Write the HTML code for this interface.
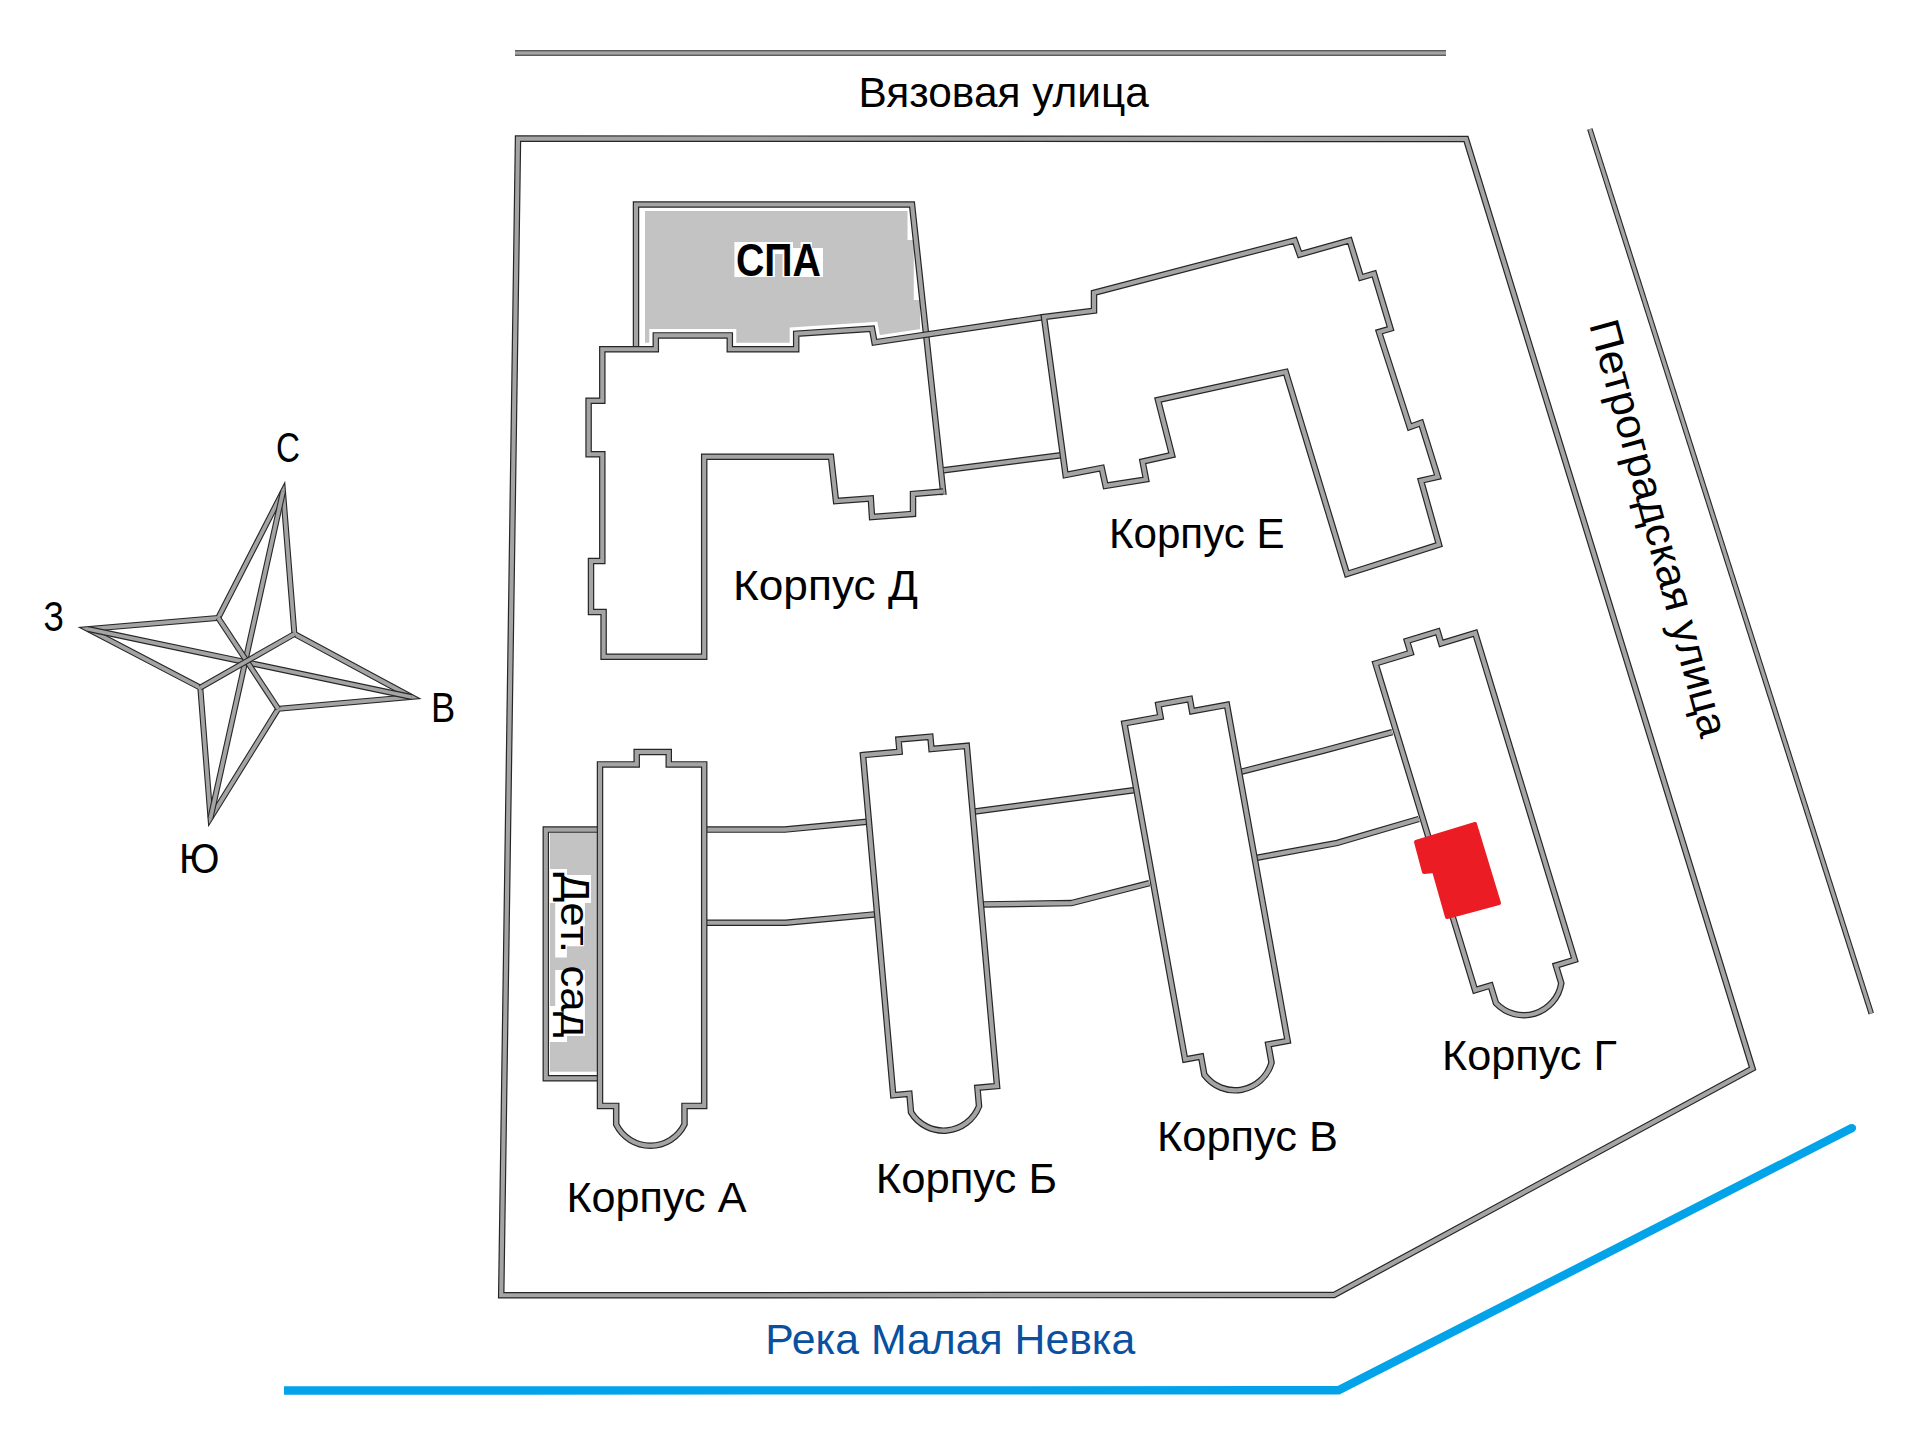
<!DOCTYPE html>
<html><head><meta charset="utf-8"><style>
html,body{margin:0;padding:0;background:#fff;width:1920px;height:1448px;overflow:hidden}
svg{display:block}
text{font-family:"Liberation Sans",sans-serif;fill:#000}
</style></head><body>
<svg width="1920" height="1448" viewBox="0 0 1920 1448">
<rect width="1920" height="1448" fill="#fff"/>
<path d="M515 53 L1446 53" fill="none" stroke="#262626" stroke-width="5.6" stroke-linejoin="miter" stroke-linecap="butt" stroke-miterlimit="10"/>
<path d="M515 53 L1446 53" fill="none" stroke="#a4a4a4" stroke-width="3.4" stroke-linejoin="miter" stroke-linecap="butt" stroke-miterlimit="10"/>
<path d="M1589.8 129 L1871.3 1013.6" fill="none" stroke="#262626" stroke-width="5.6" stroke-linejoin="miter" stroke-linecap="butt" stroke-miterlimit="10"/>
<path d="M1589.8 129 L1871.3 1013.6" fill="none" stroke="#a4a4a4" stroke-width="3.4" stroke-linejoin="miter" stroke-linecap="butt" stroke-miterlimit="10"/>
<path d="M518 138.5 L1466 139 L1752.5 1068.5 L1334 1295 L501.2 1295.3 Z" fill="none" stroke="#262626" stroke-width="6.5" stroke-linejoin="miter" stroke-linecap="butt" stroke-miterlimit="10"/>
<path d="M518 138.5 L1466 139 L1752.5 1068.5 L1334 1295 L501.2 1295.3 Z" fill="none" stroke="#a4a4a4" stroke-width="4.1" stroke-linejoin="miter" stroke-linecap="butt" stroke-miterlimit="10"/>
<path d="M284 1390.5 L1338.5 1390.3 L1851.9 1128.1" fill="none" stroke="#03a3e9" stroke-width="8.4" stroke-linejoin="miter"/>
<circle cx="1851.9" cy="1128.1" r="4.2" fill="#03a3e9"/>
<path d="M645 211 L907.5 211 L907.5 240 L913.75 240 L913.75 300 L920 300 L920 344 L645 344 Z" fill="#c3c3c3"/>
<path d="M734.4 242 L793 242 L793 248 L800.6 248 L800.6 242 L812 242 L812 248 L823 248 L823 277 L782.5 277 L782.5 254 L775 254 L775 277 L734.4 277 Z" fill="#fff"/>
<rect x="550" y="832.5" width="47" height="239.2" fill="#c3c3c3"/>
<path d="M549.7 869H567V903H549.7ZM567 875H591V903H567ZM555.2 903H584.9V926.3H555.2ZM555.2 926.3H584.2V946.3H555.2ZM555.2 946.3H566.9V957.6H555.2ZM555.2 970H584.9V988.7H555.2ZM555.2 988.7H584.9V1006H555.2ZM549.7 1006H567V1041.9H549.7ZM567 1006H584.9V1036H567Z" fill="#fff"/>
<path d="M602.3 349.3 L655.8 349.3 L655.8 335.4 L729.8 335.4 L729.8 349.3 L796.2 349.3 L796.2 333.7 L872 328.7 L874.5 342.4 L935 333.5 L943.2 491.5 L913 494 L913 513.9 L872 517 L870.8 498.5 L836 501 L831 456.7 L704.2 456.7 L704.2 656.8 L603.6 656.8 L603.6 612 L591 612 L591 561 L602.3 561 L602.3 454.2 L588.6 454.2 L588.6 400.8 L602.3 400.8 Z" fill="#fff" stroke="#fff" stroke-width="13"/>
<path d="M636 349 L636 204.5 L912 204.5 L943.5 495" fill="none" stroke="#262626" stroke-width="6.5" stroke-linejoin="miter" stroke-linecap="butt" stroke-miterlimit="10"/>
<path d="M636 349 L636 204.5 L912 204.5 L943.5 495" fill="none" stroke="#a4a4a4" stroke-width="4.1" stroke-linejoin="miter" stroke-linecap="butt" stroke-miterlimit="10"/>
<path d="M943.2 491.5 L913 494 L913 513.9 L872 517 L870.8 498.5 L836 501 L831 456.7 L704.2 456.7 L704.2 656.8 L603.6 656.8 L603.6 612 L591 612 L591 561 L602.3 561 L602.3 454.2 L588.6 454.2 L588.6 400.8 L602.3 400.8 L602.3 349.3 L655.8 349.3 L655.8 335.4 L729.8 335.4 L729.8 349.3 L796.2 349.3 L796.2 333.7 L872 328.7 L874.5 342.4 L1044 317" fill="none" stroke="#262626" stroke-width="6.5" stroke-linejoin="miter" stroke-linecap="butt" stroke-miterlimit="10"/>
<path d="M943.2 491.5 L913 494 L913 513.9 L872 517 L870.8 498.5 L836 501 L831 456.7 L704.2 456.7 L704.2 656.8 L603.6 656.8 L603.6 612 L591 612 L591 561 L602.3 561 L602.3 454.2 L588.6 454.2 L588.6 400.8 L602.3 400.8 L602.3 349.3 L655.8 349.3 L655.8 335.4 L729.8 335.4 L729.8 349.3 L796.2 349.3 L796.2 333.7 L872 328.7 L874.5 342.4 L1044 317" fill="none" stroke="#a4a4a4" stroke-width="4.1" stroke-linejoin="miter" stroke-linecap="butt" stroke-miterlimit="10"/>
<path d="M943.75 470.3 L1061 455.3" fill="none" stroke="#262626" stroke-width="6.5" stroke-linejoin="miter" stroke-linecap="butt" stroke-miterlimit="10"/>
<path d="M943.75 470.3 L1061 455.3" fill="none" stroke="#a4a4a4" stroke-width="4.1" stroke-linejoin="miter" stroke-linecap="butt" stroke-miterlimit="10"/>
<path d="M1044 317 L1094 310.7 L1094 292.8 L1294.7 240.4 L1299.8 254.5 L1349.6 240.4 L1361 277.5 L1374 273.7 L1390.5 328.6 L1379 332 L1409.7 427 L1421 423 L1437.8 476.8 L1421 480.7 L1439 544.6 L1347 574 L1285.7 372 L1158 400 L1172 455 L1142.6 461.5 L1146 479.4 L1105.6 485.8 L1101.7 468 L1065.6 475 Z" fill="none" stroke="#262626" stroke-width="6.5" stroke-linejoin="miter" stroke-linecap="butt" stroke-miterlimit="10"/>
<path d="M1044 317 L1094 310.7 L1094 292.8 L1294.7 240.4 L1299.8 254.5 L1349.6 240.4 L1361 277.5 L1374 273.7 L1390.5 328.6 L1379 332 L1409.7 427 L1421 423 L1437.8 476.8 L1421 480.7 L1439 544.6 L1347 574 L1285.7 372 L1158 400 L1172 455 L1142.6 461.5 L1146 479.4 L1105.6 485.8 L1101.7 468 L1065.6 475 Z" fill="none" stroke="#a4a4a4" stroke-width="4.1" stroke-linejoin="miter" stroke-linecap="butt" stroke-miterlimit="10"/>
<path d="M704.2 829.6 L784.8 829.6 L867 821.7" fill="none" stroke="#262626" stroke-width="6.5" stroke-linejoin="miter" stroke-linecap="butt" stroke-miterlimit="10"/>
<path d="M704.2 829.6 L784.8 829.6 L867 821.7" fill="none" stroke="#a4a4a4" stroke-width="4.1" stroke-linejoin="miter" stroke-linecap="butt" stroke-miterlimit="10"/>
<path d="M704.2 922.7 L785.8 922.7 L874.4 914.4" fill="none" stroke="#262626" stroke-width="6.5" stroke-linejoin="miter" stroke-linecap="butt" stroke-miterlimit="10"/>
<path d="M704.2 922.7 L785.8 922.7 L874.4 914.4" fill="none" stroke="#a4a4a4" stroke-width="4.1" stroke-linejoin="miter" stroke-linecap="butt" stroke-miterlimit="10"/>
<path d="M973 811.8 L1133.5 790.3" fill="none" stroke="#262626" stroke-width="6.5" stroke-linejoin="miter" stroke-linecap="butt" stroke-miterlimit="10"/>
<path d="M973 811.8 L1133.5 790.3" fill="none" stroke="#a4a4a4" stroke-width="4.1" stroke-linejoin="miter" stroke-linecap="butt" stroke-miterlimit="10"/>
<path d="M982.6 904.4 L1071.5 903.1 L1149.3 883.2" fill="none" stroke="#262626" stroke-width="6.5" stroke-linejoin="miter" stroke-linecap="butt" stroke-miterlimit="10"/>
<path d="M982.6 904.4 L1071.5 903.1 L1149.3 883.2" fill="none" stroke="#a4a4a4" stroke-width="4.1" stroke-linejoin="miter" stroke-linecap="butt" stroke-miterlimit="10"/>
<path d="M1239.9 772.1 L1323.1 750.8 L1392.2 732.2" fill="none" stroke="#262626" stroke-width="6.5" stroke-linejoin="miter" stroke-linecap="butt" stroke-miterlimit="10"/>
<path d="M1239.9 772.1 L1323.1 750.8 L1392.2 732.2" fill="none" stroke="#a4a4a4" stroke-width="4.1" stroke-linejoin="miter" stroke-linecap="butt" stroke-miterlimit="10"/>
<path d="M1255.8 858 L1337.3 842.9 L1418.8 819" fill="none" stroke="#262626" stroke-width="6.5" stroke-linejoin="miter" stroke-linecap="butt" stroke-miterlimit="10"/>
<path d="M1255.8 858 L1337.3 842.9 L1418.8 819" fill="none" stroke="#a4a4a4" stroke-width="4.1" stroke-linejoin="miter" stroke-linecap="butt" stroke-miterlimit="10"/>
<path d="M600 829.6 L545.8 829.6 L545.8 1078.3 L600 1078.3" fill="none" stroke="#262626" stroke-width="6.5" stroke-linejoin="miter" stroke-linecap="butt" stroke-miterlimit="10"/>
<path d="M600 829.6 L545.8 829.6 L545.8 1078.3 L600 1078.3" fill="none" stroke="#a4a4a4" stroke-width="4.1" stroke-linejoin="miter" stroke-linecap="butt" stroke-miterlimit="10"/>
<path d="M600 764.4 L636.7 764.4 L636.7 752 L668.75 752 L668.75 764.4 L704.2 764.4 L704.2 1105.9 L684.5 1105.9 L684.5 1124.4 A38 38 0 0 1 616.2 1124.4 L616.2 1105.9 L600 1105.9 Z" fill="none" stroke="#262626" stroke-width="6.5" stroke-linejoin="miter" stroke-linecap="butt" stroke-miterlimit="10"/>
<path d="M600 764.4 L636.7 764.4 L636.7 752 L668.75 752 L668.75 764.4 L704.2 764.4 L704.2 1105.9 L684.5 1105.9 L684.5 1124.4 A38 38 0 0 1 616.2 1124.4 L616.2 1105.9 L600 1105.9 Z" fill="none" stroke="#a4a4a4" stroke-width="4.1" stroke-linejoin="miter" stroke-linecap="butt" stroke-miterlimit="10"/>
<path d="M863 755.1 L899.56 751.85 L898.46 739.5 L930.38 736.66 L931.48 749.01 L966.79 745.87 L997.03 1086.03 L977.41 1087.78 L979.04 1106.2 A38 38 0 0 1 911.01 1112.25 L909.38 1093.82 L893.24 1095.26 Z" fill="none" stroke="#262626" stroke-width="6.5" stroke-linejoin="miter" stroke-linecap="butt" stroke-miterlimit="10"/>
<path d="M863 755.1 L899.56 751.85 L898.46 739.5 L930.38 736.66 L931.48 749.01 L966.79 745.87 L997.03 1086.03 L977.41 1087.78 L979.04 1106.2 A38 38 0 0 1 911.01 1112.25 L909.38 1093.82 L893.24 1095.26 Z" fill="none" stroke="#a4a4a4" stroke-width="4.1" stroke-linejoin="miter" stroke-linecap="butt" stroke-miterlimit="10"/>
<path d="M1124.4 723.4 L1160.52 716.88 L1158.31 704.67 L1189.85 698.98 L1192.05 711.18 L1226.94 704.88 L1287.65 1040.94 L1268.26 1044.44 L1271.55 1062.64 A38 38 0 0 1 1204.34 1074.79 L1201.05 1056.58 L1185.11 1059.46 Z" fill="none" stroke="#262626" stroke-width="6.5" stroke-linejoin="miter" stroke-linecap="butt" stroke-miterlimit="10"/>
<path d="M1124.4 723.4 L1160.52 716.88 L1158.31 704.67 L1189.85 698.98 L1192.05 711.18 L1226.94 704.88 L1287.65 1040.94 L1268.26 1044.44 L1271.55 1062.64 A38 38 0 0 1 1204.34 1074.79 L1201.05 1056.58 L1185.11 1059.46 Z" fill="none" stroke="#a4a4a4" stroke-width="4.1" stroke-linejoin="miter" stroke-linecap="butt" stroke-miterlimit="10"/>
<path d="M1375.5 663.5 L1410.61 652.8 L1406.99 640.94 L1437.65 631.6 L1441.26 643.46 L1475.17 633.12 L1574.73 959.79 L1555.89 965.53 L1561.28 983.23 A38 38 0 0 1 1495.95 1003.14 L1490.56 985.44 L1475.06 990.17 Z" fill="none" stroke="#262626" stroke-width="6.5" stroke-linejoin="miter" stroke-linecap="butt" stroke-miterlimit="10"/>
<path d="M1375.5 663.5 L1410.61 652.8 L1406.99 640.94 L1437.65 631.6 L1441.26 643.46 L1475.17 633.12 L1574.73 959.79 L1555.89 965.53 L1561.28 983.23 A38 38 0 0 1 1495.95 1003.14 L1490.56 985.44 L1475.06 990.17 Z" fill="none" stroke="#a4a4a4" stroke-width="4.1" stroke-linejoin="miter" stroke-linecap="butt" stroke-miterlimit="10"/>
<path d="M1416 842 L1475 824 L1499 903 L1447 917 L1434 871 L1424 872 Z" fill="#ec1c24" stroke="#ec1c24" stroke-width="4" stroke-linejoin="round"/>
<path d="M283 491.5 L294.4 634 L411.5 697 L278.2 708.8 L210.5 818 L200.3 687.7 L88 629 L218.2 617.9 Z" fill="none" stroke="#262626" stroke-width="6.0" stroke-linejoin="miter" stroke-linecap="butt" stroke-miterlimit="10"/>
<path d="M283 491.5 L294.4 634 L411.5 697 L278.2 708.8 L210.5 818 L200.3 687.7 L88 629 L218.2 617.9 Z" fill="none" stroke="#a4a4a4" stroke-width="3.8" stroke-linejoin="miter" stroke-linecap="butt" stroke-miterlimit="10"/>
<path d="M283 491.5 L210.5 818" fill="none" stroke="#262626" stroke-width="6.0" stroke-linejoin="miter" stroke-linecap="butt" stroke-miterlimit="10"/>
<path d="M283 491.5 L210.5 818" fill="none" stroke="#a4a4a4" stroke-width="3.8" stroke-linejoin="miter" stroke-linecap="butt" stroke-miterlimit="10"/>
<path d="M88 629 L411.5 697" fill="none" stroke="#262626" stroke-width="6.0" stroke-linejoin="miter" stroke-linecap="butt" stroke-miterlimit="10"/>
<path d="M88 629 L411.5 697" fill="none" stroke="#a4a4a4" stroke-width="3.8" stroke-linejoin="miter" stroke-linecap="butt" stroke-miterlimit="10"/>
<path d="M218.2 617.9 L278.2 708.8" fill="none" stroke="#262626" stroke-width="6.0" stroke-linejoin="miter" stroke-linecap="butt" stroke-miterlimit="10"/>
<path d="M218.2 617.9 L278.2 708.8" fill="none" stroke="#a4a4a4" stroke-width="3.8" stroke-linejoin="miter" stroke-linecap="butt" stroke-miterlimit="10"/>
<path d="M294.4 634 L200.3 687.7" fill="none" stroke="#262626" stroke-width="6.0" stroke-linejoin="miter" stroke-linecap="butt" stroke-miterlimit="10"/>
<path d="M294.4 634 L200.3 687.7" fill="none" stroke="#a4a4a4" stroke-width="3.8" stroke-linejoin="miter" stroke-linecap="butt" stroke-miterlimit="10"/>
<text x="858.5" y="106.5" font-size="42" textLength="290.4" lengthAdjust="spacingAndGlyphs">Вязовая улица</text>
<text x="736" y="276.3" font-size="46" textLength="85" lengthAdjust="spacingAndGlyphs" font-weight="bold">СПА</text>
<text x="733" y="599.6" font-size="42" textLength="184.9" lengthAdjust="spacingAndGlyphs">Корпус Д</text>
<text x="1109" y="548.4" font-size="42" textLength="175.6" lengthAdjust="spacingAndGlyphs">Корпус Е</text>
<text x="566.45" y="1211.7" font-size="42" textLength="180" lengthAdjust="spacingAndGlyphs">Корпус А</text>
<text x="875.8" y="1193.2" font-size="42" textLength="181.3" lengthAdjust="spacingAndGlyphs">Корпус Б</text>
<text x="1157" y="1151.4" font-size="42" textLength="180.9" lengthAdjust="spacingAndGlyphs">Корпус В</text>
<text x="1442" y="1070.4" font-size="42" textLength="174.9" lengthAdjust="spacingAndGlyphs">Корпус Г</text>
<text x="765.2" y="1354.4" font-size="42" textLength="370.1" lengthAdjust="spacingAndGlyphs" style="fill:#0a50a0">Река Малая Невка</text>
<text x="276" y="462" font-size="42" textLength="24" lengthAdjust="spacingAndGlyphs">С</text>
<text x="43.4" y="631" font-size="42" textLength="20.4" lengthAdjust="spacingAndGlyphs">З</text>
<text x="431" y="722" font-size="42" textLength="24.2" lengthAdjust="spacingAndGlyphs">В</text>
<text x="179" y="872.6" font-size="42" textLength="40.5" lengthAdjust="spacingAndGlyphs">Ю</text>
<text transform="translate(561,872.5) rotate(90)" font-size="40" textLength="165" lengthAdjust="spacingAndGlyphs">Дет. сад</text>
<text transform="translate(1589.1,324.2) rotate(74.9)" font-size="42" textLength="430" lengthAdjust="spacingAndGlyphs">Петроградская улица</text>
</svg>
</body></html>
